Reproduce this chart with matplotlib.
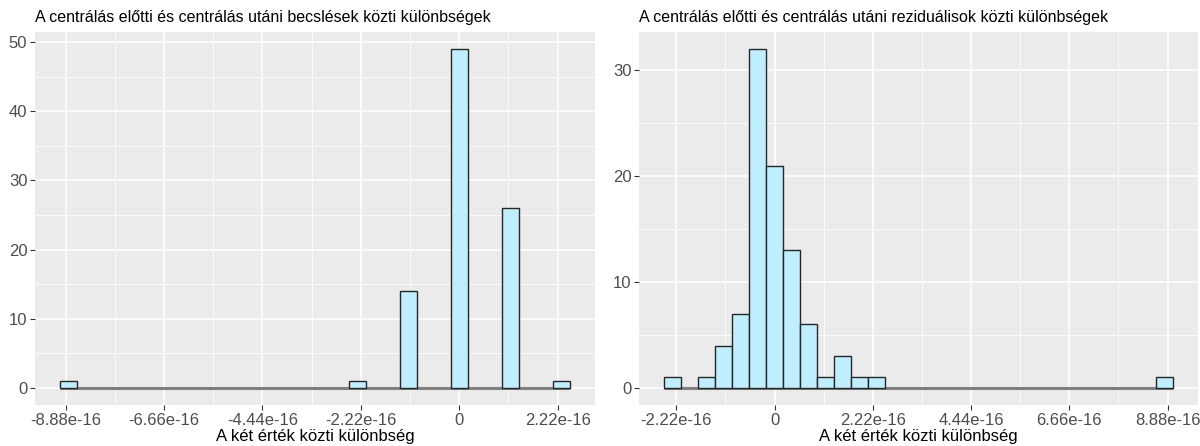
import numpy as np
import matplotlib.pyplot as plt
from matplotlib.ticker import FixedLocator

plt.rcParams['font.family'] = ['Liberation Sans', 'DejaVu Sans']

# differences before/after centring (value, how many times it occurs)
est_values = [-8.88e-16, -2.22e-16, -1.11e-16, 0.0, 1.11e-16, 2.22e-16]
est_counts = [1, 1, 14, 49, 26, 1]

res_values = [-2.22e-16, -1.55e-16, -1.15e-16, -0.78e-16, -0.39e-16, 0.0,
              0.39e-16, 0.78e-16, 1.15e-16, 1.55e-16, 1.9e-16, 2.3e-16, 8.88e-16]
res_counts = [1, 1, 4, 7, 32, 21, 13, 6, 1, 3, 1, 1, 1]

est_ticks = [-8.88e-16, -6.66e-16, -4.44e-16, -2.22e-16, 0.0, 2.22e-16]
est_labels = ['-8.88e-16', '-6.66e-16', '-4.44e-16', '-2.22e-16', '0', '2.22e-16']
res_ticks = [-2.22e-16, 0.0, 2.22e-16, 4.44e-16, 6.66e-16, 8.88e-16]
res_labels = ['-2.22e-16', '0', '2.22e-16', '4.44e-16', '6.66e-16', '8.88e-16']

est_yticks = [0, 10, 20, 30, 40, 50]
res_yticks = [0, 10, 20, 30]

titles = ['A centrálás előtti és centrálás utáni becslések közti különbségek',
          'A centrálás előtti és centrálás utáni reziduálisok közti különbségek']
xlabel = 'A két érték közti különbség'

FILL = '#BFEFFF'
PANEL = '#EBEBEB'
TXT = '#4D4D4D'


def gg_bins(x, bins=30):
    # same breaks as ggplot's stat_bin(bins = 30)
    lo, hi = x.min(), x.max()
    w = (hi - lo) / (bins - 1)
    b = w / 2
    shift = np.floor((lo - b) / w)
    origin = b + shift * w
    n = int(np.ceil((hi - origin) / w)) + 1
    edges = origin + w * np.arange(n + 1)
    return edges, w


def hist_panel(ax, values, counts, xticks, xlabels, yticks, title):
    data = np.repeat(values, counts)
    edges, w = gg_bins(data)
    h, edges = np.histogram(data, bins=edges)
    # drop empty bins at the ends
    nz = np.nonzero(h)[0]
    h = h[nz[0]:nz[-1] + 1]
    edges = edges[nz[0]:nz[-1] + 2]
    centers = (edges[:-1] + edges[1:]) / 2

    ax.set_facecolor(PANEL)
    ax.hlines(0, edges[0], edges[-1], color='#7F7F7F', lw=2.2, zorder=2)
    ax.bar(centers[h > 0], h[h > 0], width=w, color=FILL,
           edgecolor='#262626', linewidth=1.0, zorder=3)

    span = edges[-1] - edges[0]
    ax.set_xlim(edges[0] - 0.05 * span, edges[-1] + 0.05 * span)
    ymax = h.max()
    ax.set_ylim(-0.05 * ymax, ymax * 1.05)

    ax.xaxis.set_major_locator(FixedLocator(xticks))
    ax.set_xticklabels(xlabels)
    step = xticks[1] - xticks[0]
    ax.xaxis.set_minor_locator(FixedLocator(
        np.arange(xticks[0] - step / 2, xticks[-1] + step, step)))
    ax.yaxis.set_major_locator(FixedLocator(yticks))
    ax.yaxis.set_minor_locator(FixedLocator(np.arange(-5, yticks[-1] + 10, 10)))

    ax.grid(which='major', color='white', lw=1.1, zorder=0)
    ax.grid(which='minor', color='white', lw=0.55, zorder=0)
    ax.set_axisbelow(True)
    for s in ax.spines.values():
        s.set_visible(False)
    ax.tick_params(which='major', length=3.5, width=0.8, color='#333333',
                   labelcolor=TXT, labelsize=12, pad=2)
    ax.tick_params(which='minor', length=0)
    ax.set_xlabel(xlabel, fontsize=12, color='black', labelpad=1)
    ax.set_title(title, loc='left', fontsize=11.5, color='black', pad=7)


fig = plt.figure(figsize=(12, 4.46), dpi=100)
ax1 = fig.add_axes([35 / 1200, 41 / 446, 560 / 1200, 373 / 446])
ax2 = fig.add_axes([639 / 1200, 41 / 446, 559 / 1200, 373 / 446])

hist_panel(ax1, est_values, est_counts, est_ticks, est_labels, est_yticks, titles[0])
hist_panel(ax2, res_values, res_counts, res_ticks, res_labels, res_yticks, titles[1])

fig.savefig('out.png', dpi=100)
